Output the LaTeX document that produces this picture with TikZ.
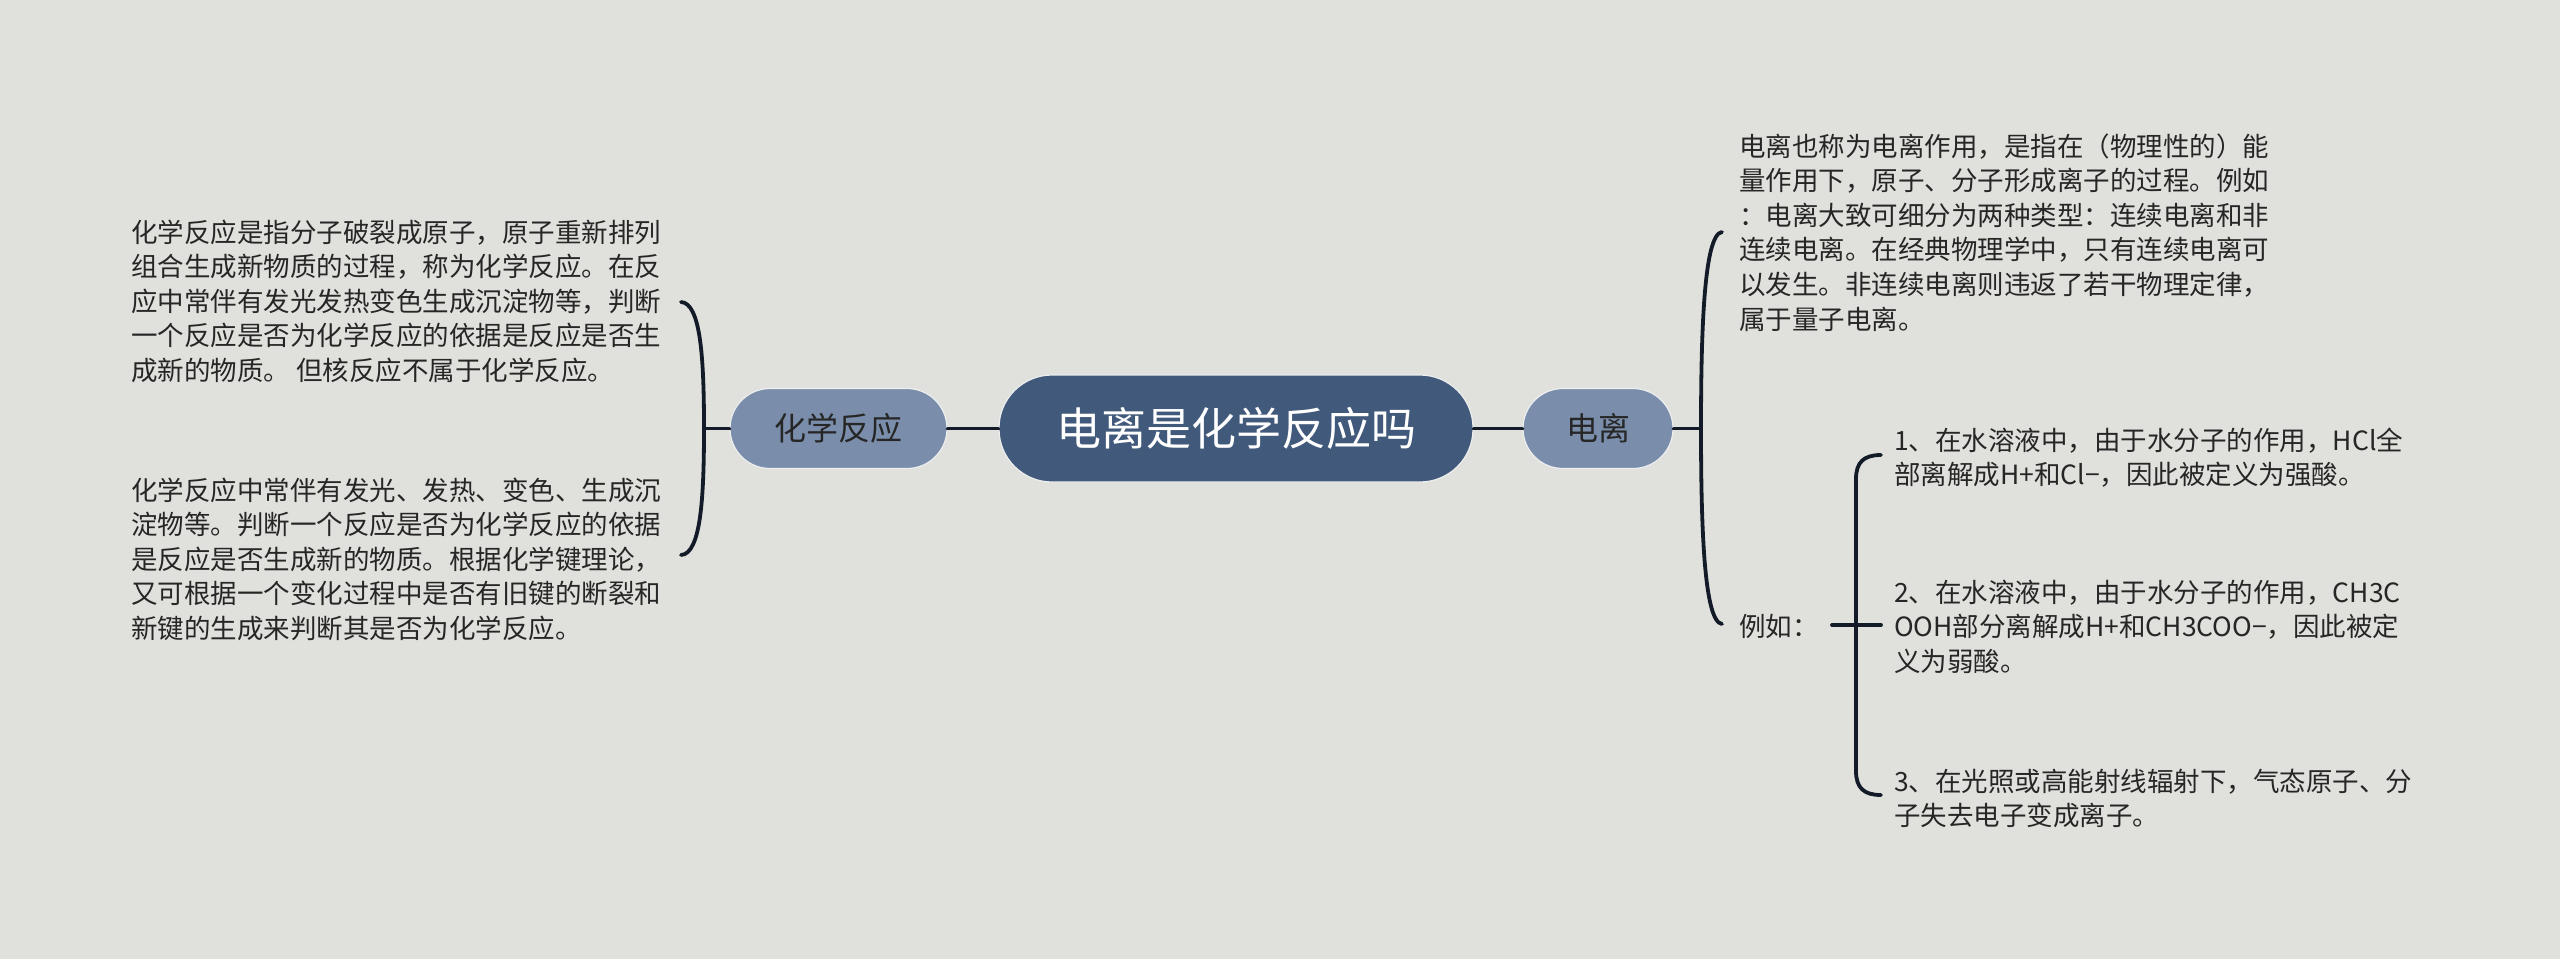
\documentclass[tikz,border=0pt]{standalone}
\usepackage{fontspec}
\setmainfont{Noto Sans CJK SC}
\definecolor{bgc}{RGB}{224,225,220}
\definecolor{rootc}{RGB}{65,89,122}
\definecolor{subc}{RGB}{122,141,171}
\definecolor{linec}{RGB}{20,27,40}
\definecolor{txtc}{RGB}{38,38,38}
\definecolor{rimc}{RGB}{236,238,240}
\begin{document}
\begin{tikzpicture}[x=1pt,y=-1pt,
  conn/.style={draw=linec, line width=3.8pt, line cap=round},
  rootbox/.style={fill=rootc, draw=rimc, line width=1.2pt, text=white, rounded corners=53pt, minimum width=474pt, minimum height=107pt, inner sep=0pt, font=\fontsize{45}{54}\selectfont},
  subbox/.style={fill=subc, draw=rimc, line width=1.2pt, text=txtc, rounded corners=40pt, minimum height=80pt, inner sep=0pt, font=\fontsize{32}{40}\selectfont},
  para/.style={anchor=base west, align=left, inner sep=0pt, text=txtc, font=\fontsize{26.5}{34.6}\selectfont}
]
\fill[bgc] (0,0) rectangle (2560,959);
\useasboundingbox (0,0) rectangle (2560,959);

% main nodes
\node[rootbox] (root) at (1236,428.5) {电离是化学反应吗};
\node[subbox, minimum width=217pt] (chem) at (838.5,428.5) {化学反应};
\node[subbox, minimum width=150pt] (ion) at (1598,428.5) {电离};

\draw[conn] (root.west) -- (chem.east);
\draw[conn] (root.east) -- (ion.west);

% left branch (anchor = baseline of last line)
\coordinate (lj) at (704,428.5);
\coordinate (l1) at (681,302);
\coordinate (l2) at (681,555);
\draw[conn] (chem.west) -- (lj);
\draw[conn] (l1) .. controls (701,303) and (704,360) .. (lj) .. controls (704,497) and (701,554) .. (l2);

\node[para] (lt1) at (131,380.4) {化学反应是指分子破裂成原子，原子重新排列\\组合生成新物质的过程，称为化学反应。在反\\应中常伴有发光发热变色生成沉淀物等，判断\\一个反应是否为化学反应的依据是反应是否生\\成新的物质。 但核反应不属于化学反应。};
\node[para] (lt2) at (131,638.4) {化学反应中常伴有发光、发热、变色、生成沉\\淀物等。判断一个反应是否为化学反应的依据\\是反应是否生成新的物质。根据化学键理论，\\又可根据一个变化过程中是否有旧键的断裂和\\新键的生成来判断其是否为化学反应。};

% right branch
\coordinate (rj) at (1701,428.5);
\coordinate (r1) at (1722,232);
\coordinate (r2) at (1722,624);
\draw[conn] (ion.east) -- (rj);
\draw[conn] (r1) .. controls (1704,234) and (1701,330) .. (rj) .. controls (1701,527) and (1704,622) .. (r2);

\node[para] (rt1) at (1739,329) {电离也称为电离作用，是指在（物理性的）能\\量作用下，原子、分子形成离子的过程。例如\\：电离大致可细分为两种类型：连续电离和非\\连续电离。在经典物理学中，只有连续电离可\\以发生。非连续电离则违返了若干物理定律，\\属于量子电离。};
\node[para] (eg) at (1739,636) {例如：};

% examples
\coordinate (ea) at (1832,625);
\coordinate (ej) at (1856,625);
\coordinate (eb) at (1881,625);
\coordinate (e1) at (1881,455);
\coordinate (e3) at (1881,795);
\draw[conn] (ea) -- (eb);
\draw[conn] (e1) .. controls (1864,455) and (1856,462) .. (1856,479) -- (1856,771) .. controls (1856,788) and (1864,795) .. (e3);

\node[para] (x1) at (1894,484.6) {1、在水溶液中，由于水分子的作用，HCl全\\部离解成H+和Cl−，因此被定义为强酸。};
\node[para] (x2) at (1894,671.2) {2、在水溶液中，由于水分子的作用，CH3C\\OOH部分离解成H+和CH3COO−，因此被定\\义为弱酸。};
\node[para] (x3) at (1894,825.6) {3、在光照或高能射线辐射下，气态原子、分\\子失去电子变成离子。};
\end{tikzpicture}
\end{document}
